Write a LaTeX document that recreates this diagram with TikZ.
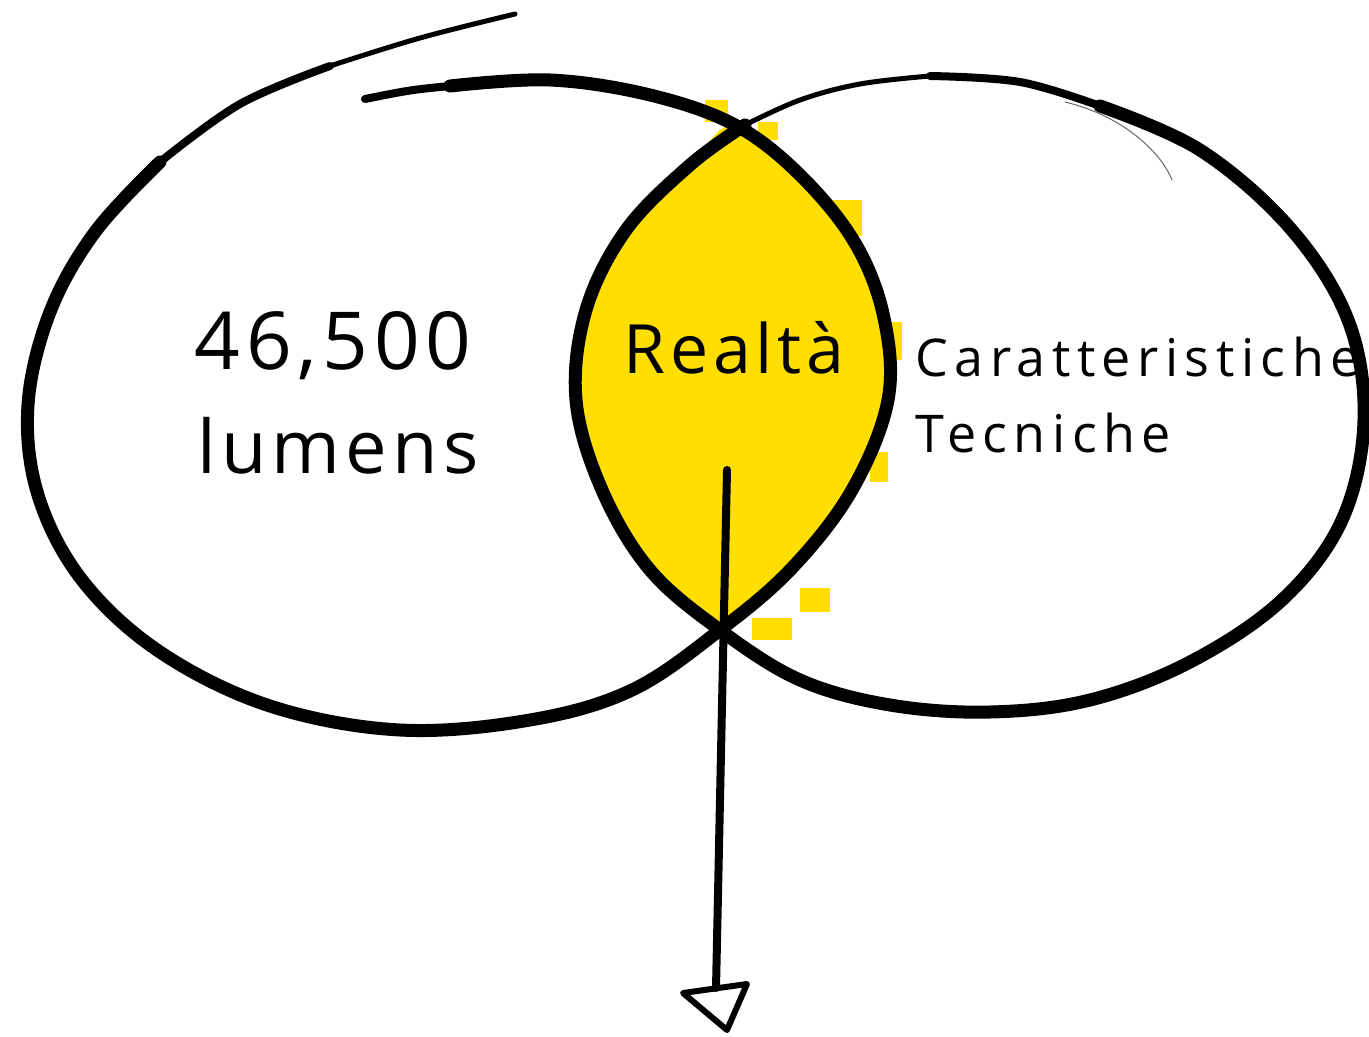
\documentclass[tikz,border=0pt]{standalone}
\usepackage{fontspec}
\setmainfont{Open Sans}
\newfontfamily\handfont[LetterSpace=7]{Open Sans}
\newfontfamily\handwidefont[LetterSpace=12.5]{Open Sans}
\usetikzlibrary{calc}

\definecolor{lensyellow}{RGB}{255,222,0}

\tikzset{
  loop/.style={line width=6.5pt, line cap=round, line join=round},
  midloop/.style={line width=4pt, line cap=round},
  tail/.style={line width=2.5pt, line cap=round},
  hair/.style={line width=0.5pt, black!60, line cap=round},
  label/.style={inner sep=0pt}
}

\begin{document}
\begin{tikzpicture}[x={(0.5pt,0)}, y={(0,-0.5pt)}]
\useasboundingbox (0,0) rectangle (1369,1037);
% yellow lens
\fill [lensyellow] plot [smooth cycle, tension=0.6] coordinates {
  (735,125) (800,175) (855,243) (884,318) (888,400) (852,490)
  (792,568) (720,630) (650,570) (602,490) (576,400) (586,310)
  (626,230) (690,165)};
% rough brush edges
\fill [lensyellow] (705,100) rectangle (728,122);
\fill [lensyellow] (758,122) rectangle (778,140);
\fill [lensyellow] (815,200) rectangle (862,236);
\fill [lensyellow] (876,322) rectangle (902,360);
\fill [lensyellow] (870,452) rectangle (888,482);
\fill [lensyellow] (800,588) rectangle (830,612);
\fill [lensyellow] (752,618) rectangle (792,640);
\fill [lensyellow] (606,480) rectangle (628,508);
% left loop
\draw [tail] plot [smooth, tension=0.6] coordinates {
  (515,14) (420,38) (330,66)};
\draw [midloop] plot [smooth, tension=0.6] coordinates {
  (330,66) (240,104) (160,162)};
\draw [loop] plot [smooth, tension=0.6] coordinates {
  (160,162) (95,232) (50,312) (28,405) (38,495) (82,580) (160,652)
  (270,706) (400,730) (530,720) (632,690) (720,630) (792,568)
  (852,490) (888,400) (884,318) (855,243) (800,175) (735,125)
  (650,95) (550,80) (450,86)};
\draw [midloop] (450,86) .. controls (410,90) .. (365,99);
% right loop
\draw [loop] plot [smooth, tension=0.6] coordinates {
  (1100,106) (1200,150) (1290,228) (1348,320) (1364,420) (1342,520)
  (1282,600) (1190,662) (1090,700) (990,712) (890,705) (800,680)
  (720,630) (650,570) (602,490) (576,400) (586,310) (626,230)
  (690,165) (745,125)};
\draw [tail] plot [smooth, tension=0.6] coordinates {
  (745,125) (800,100) (860,84) (930,76)};
\draw [midloop] plot [smooth, tension=0.6] coordinates {
  (930,76) (1020,82) (1100,106)};
\draw [hair] (1065,102) .. controls (1120,115) and (1160,150) .. (1172,180);
% labels
\node [label, font=\handfont\fontsize{40}{40}\selectfont] (lumenval) at (333,346) {46,500};
\node [label, font=\handfont\fontsize{37}{37}\selectfont] (lumenunit) at (338,446) {lumens};
\node [label, font=\handfont\fontsize{34}{34}\selectfont] (reality) at (734,348) {Realtà};
\node [label, anchor=base west, font=\handwidefont\fontsize{26}{26}\selectfont] (features) at (915,377) {Caratteristiche};
\node [label, anchor=base west, font=\handwidefont\fontsize{26}{26}\selectfont] (technical) at (915,452) {Tecniche};
% arrow out of the lens
\coordinate (arrowtop) at (727,470);
\coordinate (arrowend) at (716,988);
\draw [line width=4pt, line cap=round] (arrowtop) -- (arrowend);
\draw [line width=3pt, line join=round] (683,993) -- (747,984) -- (727,1030) -- cycle;
\end{tikzpicture}
\end{document}
